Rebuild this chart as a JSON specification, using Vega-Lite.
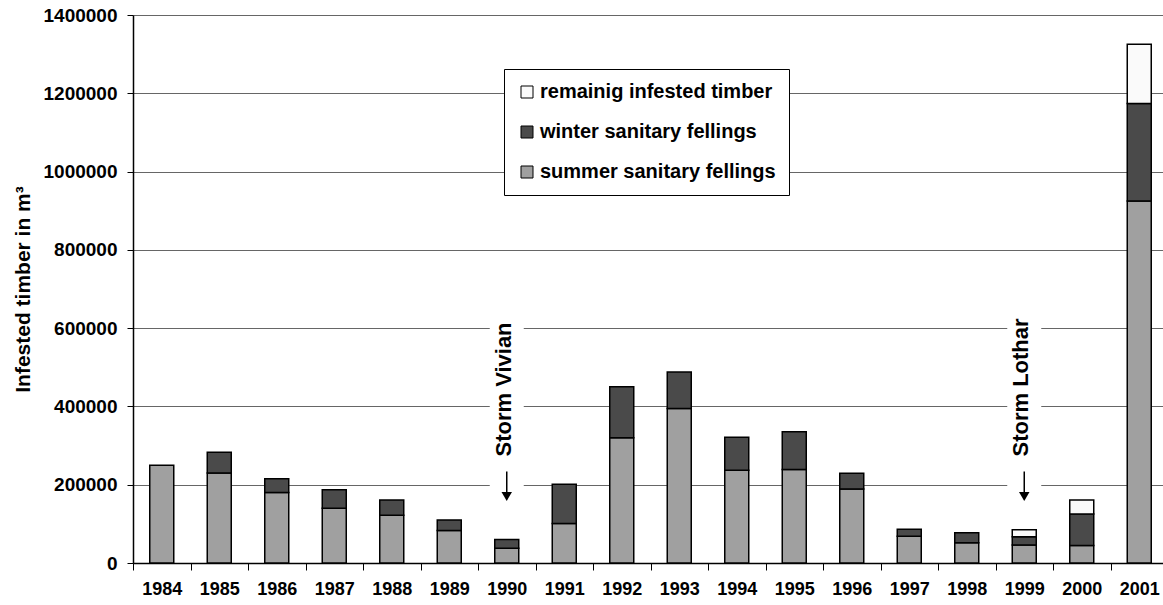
{
  "$schema": "https://vega.github.io/schema/vega-lite/v6.json",
  "autosize": {"type": "none"},
  "padding": {"left": 133, "top": 15, "right": -5, "bottom": 42},
  "width": 1035,
  "height": 548,
  "background": "white",
  "config": {
    "font": "Liberation Sans",
    "view": {"stroke": null}
  },
  "datasets": {
    "timber": [
      {"year": "1984", "type": "summer sanitary fellings", "value": 250000},
      {"year": "1985", "type": "summer sanitary fellings", "value": 230000},
      {"year": "1985", "type": "winter sanitary fellings", "value": 53000},
      {"year": "1986", "type": "summer sanitary fellings", "value": 180000},
      {"year": "1986", "type": "winter sanitary fellings", "value": 35000},
      {"year": "1987", "type": "summer sanitary fellings", "value": 140000},
      {"year": "1987", "type": "winter sanitary fellings", "value": 47000},
      {"year": "1988", "type": "summer sanitary fellings", "value": 122000},
      {"year": "1988", "type": "winter sanitary fellings", "value": 39000},
      {"year": "1989", "type": "summer sanitary fellings", "value": 83000},
      {"year": "1989", "type": "winter sanitary fellings", "value": 27000},
      {"year": "1990", "type": "summer sanitary fellings", "value": 38000},
      {"year": "1990", "type": "winter sanitary fellings", "value": 22000},
      {"year": "1991", "type": "summer sanitary fellings", "value": 101000},
      {"year": "1991", "type": "winter sanitary fellings", "value": 100000},
      {"year": "1992", "type": "summer sanitary fellings", "value": 320000},
      {"year": "1992", "type": "winter sanitary fellings", "value": 130000},
      {"year": "1993", "type": "summer sanitary fellings", "value": 395000},
      {"year": "1993", "type": "winter sanitary fellings", "value": 93000},
      {"year": "1994", "type": "summer sanitary fellings", "value": 237000},
      {"year": "1994", "type": "winter sanitary fellings", "value": 84000},
      {"year": "1995", "type": "summer sanitary fellings", "value": 239000},
      {"year": "1995", "type": "winter sanitary fellings", "value": 96000},
      {"year": "1996", "type": "summer sanitary fellings", "value": 189000},
      {"year": "1996", "type": "winter sanitary fellings", "value": 40000},
      {"year": "1997", "type": "summer sanitary fellings", "value": 68500},
      {"year": "1997", "type": "winter sanitary fellings", "value": 18000},
      {"year": "1998", "type": "summer sanitary fellings", "value": 52000},
      {"year": "1998", "type": "winter sanitary fellings", "value": 25000},
      {"year": "1999", "type": "summer sanitary fellings", "value": 46000},
      {"year": "1999", "type": "winter sanitary fellings", "value": 21000},
      {"year": "1999", "type": "remainig infested timber", "value": 18000},
      {"year": "2000", "type": "summer sanitary fellings", "value": 45000},
      {"year": "2000", "type": "winter sanitary fellings", "value": 80000},
      {"year": "2000", "type": "remainig infested timber", "value": 36000},
      {"year": "2001", "type": "summer sanitary fellings", "value": 925000},
      {"year": "2001", "type": "winter sanitary fellings", "value": 249000},
      {"year": "2001", "type": "remainig infested timber", "value": 151000}
    ],
    "types": [
      {"type": "summer sanitary fellings", "rank": 1},
      {"type": "winter sanitary fellings", "rank": 2},
      {"type": "remainig infested timber", "rank": 3}
    ],
    "storms": [
      {"year": "1990", "storm": "Storm Vivian"},
      {"year": "1999", "storm": "Storm Lothar"}
    ]
  },
  "encoding": {
    "x": {
      "field": "year",
      "type": "nominal",
      "scale": {
        "type": "band",
        "domain": ["1984","1985","1986","1987","1988","1989","1990","1991","1992","1993","1994","1995","1996","1997","1998","1999","2000","2001"],
        "paddingInner": 0,
        "paddingOuter": 0
      },
      "axis": {
        "title": null,
        "labelAngle": 0,
        "labelFontSize": 18,
        "labelFontWeight": "bold",
        "labelColor": "black",
        "labelPadding": 10,
        "tickBand": "extent",
        "tickSize": 7,
        "tickColor": "black",
        "domainColor": "black",
        "domainWidth": 1.5,
        "grid": false
      }
    }
  },
  "layer": [
    {
      "data": {"name": "storms"},
      "mark": {"type": "bar", "width": 34, "color": "white"},
      "encoding": {
        "y": {"datum": 150000, "type": "quantitative"},
        "y2": {"datum": 650000}
      }
    },
    {
      "data": {"name": "timber"},
      "transform": [
        {"lookup": "type", "from": {"data": {"name": "types"}, "key": "type", "fields": ["rank"]}}
      ],
      "mark": {"type": "bar", "width": 24, "stroke": "black", "strokeWidth": 1.5},
      "encoding": {
        "y": {
          "field": "value",
          "type": "quantitative",
          "stack": "zero",
          "scale": {"domain": [0, 1400000], "nice": false},
          "axis": {
            "title": "Infested timber in m³",
            "titleFontSize": 21,
            "titleFontWeight": "bold",
            "titleColor": "black",
            "titlePadding": 10,
            "values": [0, 200000, 400000, 600000, 800000, 1000000, 1200000, 1400000],
            "format": "d",
            "labelFontSize": 19,
            "labelFontWeight": "bold",
            "labelColor": "black",
            "labelPadding": 10,
            "tickSize": 6,
            "tickColor": "black",
            "domainColor": "black",
            "domainWidth": 1.5,
            "grid": true,
            "gridColor": "#666666",
            "gridWidth": 1
          }
        },
        "order": {"field": "rank", "type": "quantitative", "sort": "ascending"},
        "color": {
          "field": "type",
          "type": "nominal",
          "scale": {
            "domain": ["summer sanitary fellings", "winter sanitary fellings", "remainig infested timber"],
            "range": ["#a0a0a0", "#4a4a4a", "#fafafa"]
          },
          "legend": {
            "title": null,
            "orient": "none",
            "legendX": 371,
            "legendY": 54,
            "values": ["remainig infested timber", "winter sanitary fellings", "summer sanitary fellings"],
            "symbolType": "square",
            "symbolSize": 144,
            "symbolStrokeColor": "black",
            "symbolStrokeWidth": 1,
            "labelFontSize": 20,
            "labelFontWeight": "bold",
            "labelColor": "black",
            "labelOffset": 3,
            "labelLimit": 400,
            "rowPadding": 20,
            "padding": 13,
            "strokeColor": "black",
            "fillColor": "white"
          }
        }
      }
    },
    {
      "data": {"name": "storms"},
      "mark": {"type": "rule", "color": "black", "strokeWidth": 1.5},
      "encoding": {
        "y": {"datum": 234000, "type": "quantitative"},
        "y2": {"datum": 165000}
      }
    },
    {
      "data": {"name": "storms"},
      "mark": {"type": "point", "shape": "triangle-down", "filled": true, "color": "black", "size": 110, "opacity": 1},
      "encoding": {
        "y": {"datum": 170000, "type": "quantitative"}
      }
    },
    {
      "data": {"name": "storms"},
      "mark": {"type": "text", "angle": 270, "align": "left", "baseline": "middle", "fontSize": 22, "fontWeight": "bold", "color": "black", "dy": -3},
      "encoding": {
        "y": {"datum": 272000, "type": "quantitative"},
        "text": {"field": "storm"}
      }
    }
  ]
}
